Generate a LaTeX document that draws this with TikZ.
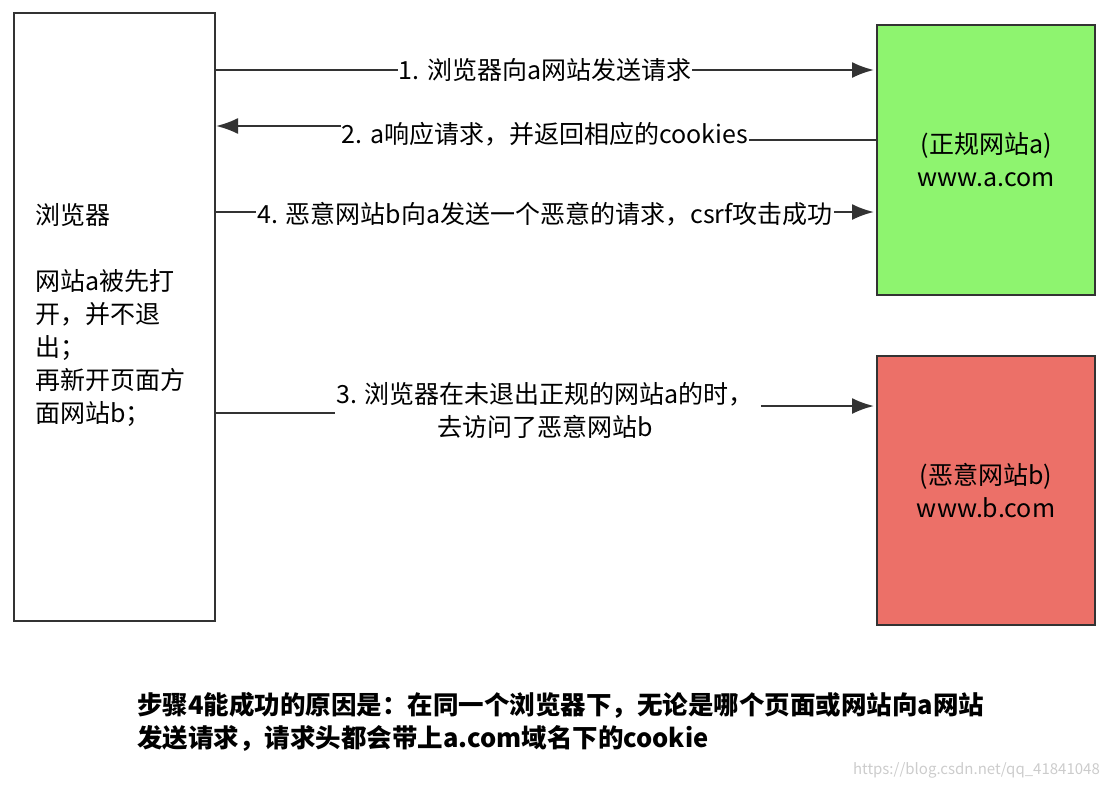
\documentclass[tikz,border=0pt]{standalone}
\usepackage{fontspec}
\setmainfont{Noto Sans CJK SC}
\usetikzlibrary{arrows.meta, positioning}
\definecolor{siteok}{HTML}{8EF46F}
\definecolor{sitebad}{HTML}{EC7068}
\definecolor{linegray}{HTML}{333333}

\begin{document}
\begin{tikzpicture}[
    x=1pt, y=-1pt,
    box/.style={
      rectangle,
      draw=linegray,
      line width=2.2pt,
      anchor=north west,
      align=center,
      inner sep=0pt
    },
    msg/.style={
      fill=white,
      inner sep=1pt,
      align=center,
      font=\fontsize{25}{30}\selectfont
    },
    arrow/.style={
      -{Latex[length=22pt,width=16pt]},
      line width=2.2pt,
      draw=linegray
    },
    plain/.style={
      line width=2.2pt,
      draw=linegray
    }
  ]
  \useasboundingbox (0,0) rectangle (1108,788);

  % Boxes
  \node[box, minimum width=201pt, minimum height=608pt] (browser) at (13,12) {};
  \node[box, fill=siteok, minimum width=218pt, minimum height=270pt,
        font=\fontsize{25}{33}\selectfont] (sitea) at (876,24) {(正规网站a)\\www.a.com};
  \node[box, fill=sitebad, minimum width=218pt, minimum height=269pt,
        font=\fontsize{25}{33}\selectfont] (siteb) at (876,355) {(恶意网站b)\\www.b.com};

  % Browser text
  \node[anchor=north west, align=left, inner sep=0pt,
        font=\fontsize{25}{33}\selectfont] (btext) at (35,203)
    {浏览器\\[33pt]网站a被先打\\开，并不退\\出；\\再新开页面方\\面网站b；};

  % Arrow ends
  \coordinate (b1) at (214,70);  \coordinate (a1) at (874,70);
  \coordinate (a2) at (876,140); \coordinate (b2) at (216,126);
  \coordinate (b4) at (214,212); \coordinate (a4) at (874,212);
  \coordinate (b3) at (214,413); \coordinate (s3) at (874,406);

  % Full arrows (labels sit on top)
  \draw[arrow] (b1) -- (a1);
  \draw[arrow] (b4) -- (a4);

  % Labels
  \node[msg] (m1) at (545,70) {1. 浏览器向a网站发送请求};
  \node[msg] (m2) at (545,134) {2. a响应请求，并返回相应的cookies};
  \node[msg] (m4) at (545,214) {4. 恶意网站b向a发送一个恶意的请求，csrf攻击成功};
  \node[msg, font=\fontsize{25}{33}\selectfont] (m3) at (545,410)
    {3. 浏览器在未退出正规的网站a的时，\\去访问了恶意网站b};

  % Broken arrows
  \draw[plain] (a2) -- (m2.east |- a2);
  \draw[arrow] (m2.west |- b2) -- (b2);
  \draw[plain] (b3) -- (m3.west |- b3);
  \draw[arrow] ([xshift=6pt]m3.east |- s3) -- (s3);

  % Note
  \node[anchor=north west, align=left, inner sep=0pt,
        font=\fontsize{25.5}{33}\selectfont\bfseries] (note) at (137,692)
    {步骤4能成功的原因是：在同一个浏览器下，无论是哪个页面或网站向a网站\\发送请求，请求头都会带上a.com域名下的cookie};
  \node[anchor=south east, text=gray!40, inner sep=0pt,
        font=\fontsize{15}{17}\selectfont] (mark) at (1100,778)
    {https://blog.csdn.net/qq\_41841048};
\end{tikzpicture}
\end{document}
